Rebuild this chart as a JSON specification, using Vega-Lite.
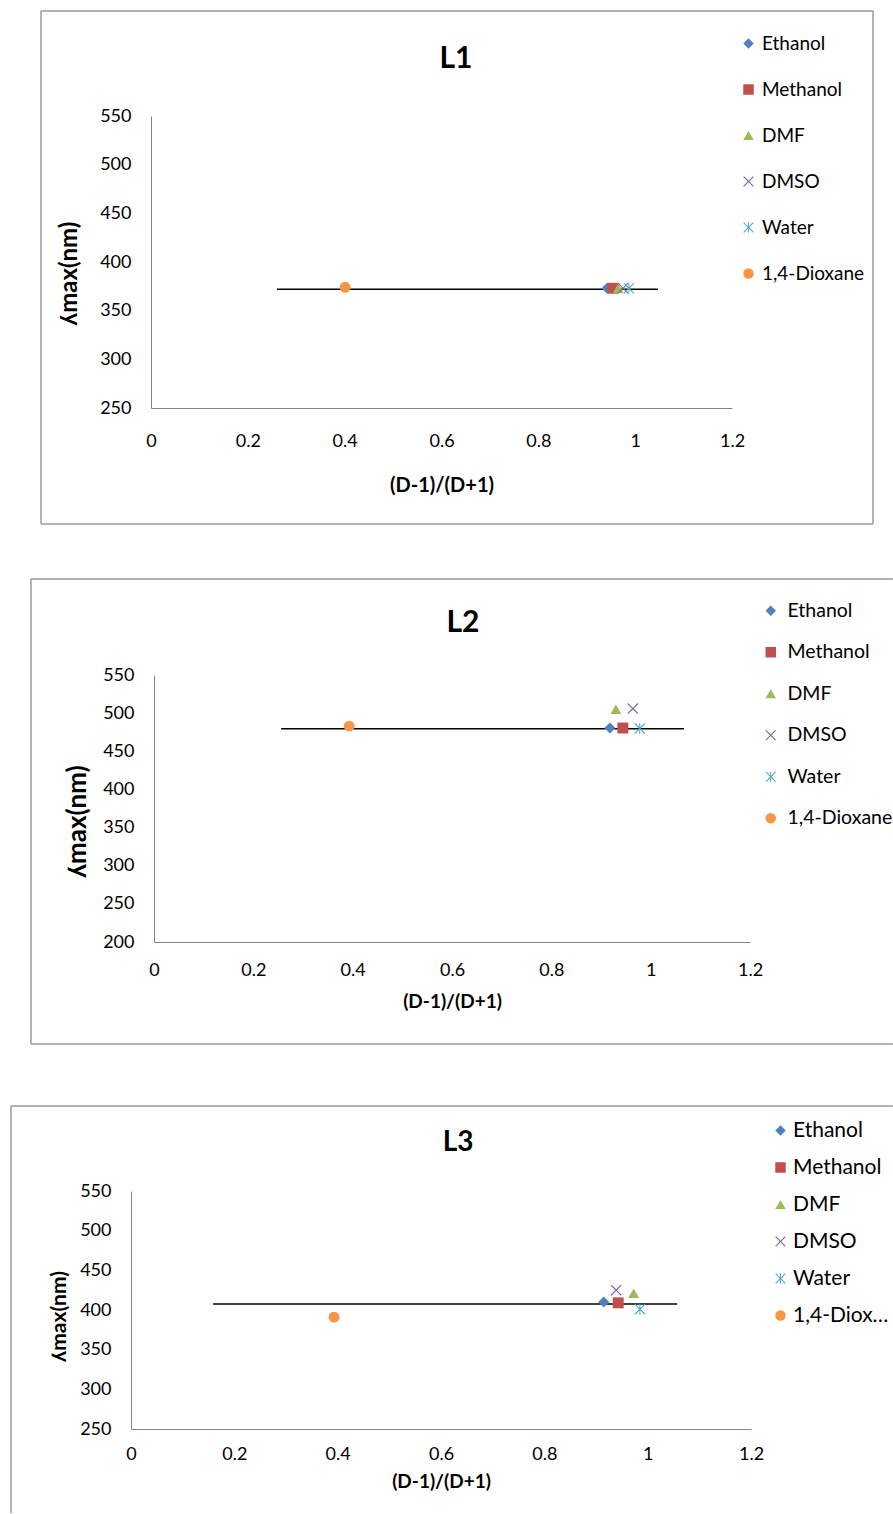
{
  "$schema": "https://vega.github.io/schema/vega-lite/v6.json",
  "padding": {"left": 9, "top": 10, "right": 0, "bottom": 0},
  "background": "white",
  "config": {
    "view": {"stroke": null},
    "font": "Lato",
    "axis": {"grid": false, "ticks": false, "tickSize": 0, "tickCount": 20, "domainColor": "#868686", "domainWidth": 1, "labelColor": "#000000", "labelFont": "Lato", "labelFontSize": 18, "titleFont": "Lato", "titleFontSize": 20, "titleFontWeight": "bold", "titleColor": "#000000", "labelFlush": false, "labelOverlap": false},
    "legend": {"padding": 0, "labelFont": "Lato", "labelColor": "#000000", "symbolSize": 110, "symbolStrokeWidth": 0}
  },
  "datasets": {
    "pts": [
      {"panel": "L1", "solvent": "Ethanol", "x": 0.942, "y": 373},
      {"panel": "L1", "solvent": "Methanol", "x": 0.954, "y": 373},
      {"panel": "L1", "solvent": "DMF", "x": 0.965, "y": 373},
      {"panel": "L1", "solvent": "DMSO", "x": 0.975, "y": 373},
      {"panel": "L1", "solvent": "Water", "x": 0.987, "y": 373},
      {"panel": "L1", "solvent": "1,4-Dioxane", "x": 0.401, "y": 374},
      {"panel": "L2", "solvent": "Ethanol", "x": 0.918, "y": 480.5},
      {"panel": "L2", "solvent": "Methanol", "x": 0.944, "y": 480.5},
      {"panel": "L2", "solvent": "DMF", "x": 0.93, "y": 505},
      {"panel": "L2", "solvent": "DMSO", "x": 0.964, "y": 506},
      {"panel": "L2", "solvent": "Water", "x": 0.978, "y": 480},
      {"panel": "L2", "solvent": "1,4-Dioxane", "x": 0.393, "y": 483},
      {"panel": "L3", "solvent": "Ethanol", "x": 0.915, "y": 410},
      {"panel": "L3", "solvent": "Methanol", "x": 0.943, "y": 409},
      {"panel": "L3", "solvent": "DMF", "x": 0.973, "y": 421},
      {"panel": "L3", "solvent": "DMSO", "x": 0.939, "y": 425},
      {"panel": "L3", "solvent": "Water", "x": 0.985, "y": 401},
      {"panel": "L3", "solvent": "1,4-Dioxane", "x": 0.393, "y": 391}
    ],
    "trend": [
      {"panel": "L1", "x": 0.26, "y": 372},
      {"panel": "L1", "x": 1.047, "y": 372},
      {"panel": "L2", "x": 0.256, "y": 479.5},
      {"panel": "L2", "x": 1.067, "y": 479.5},
      {"panel": "L3", "x": 0.159, "y": 407.6},
      {"panel": "L3", "x": 1.057, "y": 407.6}
    ]
  },
  "spacing": 53,
  "resolve": {"scale": {"x": "independent", "y": "independent", "color": "independent", "shape": "independent"}, "legend": {"color": "independent", "shape": "independent"}},
  "vconcat": [
    {
      "spacing": 0,
      "resolve": {"scale": {"x": "independent", "y": "independent", "color": "independent", "shape": "independent"}, "legend": {"color": "independent", "shape": "independent"}},
      "hconcat": [
        {"width": 31, "height": 10, "data": {"values": [{}]}, "mark": {"type": "point", "opacity": 0, "size": 0}},
        {
          "width": 581, "height": 292,
          "layer": [
            {"data": {"values": [{}]}, "mark": {"type": "rule", "color": "#9a9a9a", "strokeWidth": 1.5},
             "encoding": {"x": {"datum": -0.2272, "type": "quantitative", "scale": {"domain": [0, 1.2], "nice": false, "zero": false}}, "x2": {"datum": 1.4912}, "y": {"datum": 657.9, "type": "quantitative", "scale": {"domain": [250, 550], "nice": false, "zero": false}}}},
            {"data": {"values": [{}]}, "mark": {"type": "rule", "color": "#9a9a9a", "strokeWidth": 1.5},
             "encoding": {"x": {"datum": -0.2272, "type": "quantitative"}, "x2": {"datum": 1.4912}, "y": {"datum": 130.8, "type": "quantitative"}}},
            {"data": {"values": [{}]}, "mark": {"type": "rule", "color": "#9a9a9a", "strokeWidth": 1.5},
             "encoding": {"x": {"datum": -0.2272, "type": "quantitative"}, "y": {"datum": 130.8, "type": "quantitative"}, "y2": {"datum": 657.9}}},
            {"data": {"values": [{}]}, "mark": {"type": "rule", "color": "#9a9a9a", "strokeWidth": 1.5},
             "encoding": {"x": {"datum": 1.4912, "type": "quantitative"}, "y": {"datum": 130.8, "type": "quantitative"}, "y2": {"datum": 657.9}}},
            {"data": {"name": "trend"}, "transform": [{"filter": "datum.panel === 'L1'"}],
             "mark": {"type": "line", "color": "#000000", "strokeWidth": 1.5},
             "encoding": {"x": {"field": "x", "type": "quantitative"}, "y": {"field": "y", "type": "quantitative"}}},
            {"data": {"name": "pts"}, "transform": [{"filter": "datum.panel === 'L1'"}],
             "mark": {"type": "point", "filled": true, "size": 120, "opacity": 1},
             "encoding": {
               "x": {"field": "x", "type": "quantitative", "scale": {"domain": [0, 1.2], "nice": false, "zero": false},
                     "axis": {"title": "(D-1)/(D+1)", "values": [0, 0.2, 0.4, 0.6, 0.8, 1, 1.2], "tickCount": 20, "format": "~g", "labelOverlap": false, "labelPadding": 24, "titlePadding": 25}},
               "y": {"field": "y", "type": "quantitative", "scale": {"domain": [250, 550], "nice": false, "zero": false},
                     "axis": {"title": "ʎmax(nm)", "titleFontSize": 24, "titleY": 157, "values": [250, 300, 350, 400, 450, 500, 550], "tickCount": 20, "labelOverlap": false, "labelPadding": 20, "titlePadding": 18}},
               "color": {"field": "solvent", "type": "nominal",
                         "scale": {"domain": ["Ethanol", "Methanol", "DMF", "DMSO", "Water", "1,4-Dioxane"], "range": ["#4F81BD", "#C0504D", "#9BBB59", "#8064A2", "#4BACC6", "#F79646"]},
                         "legend": {"title": null, "orient": "none", "legendX": 588, "legendY": -82, "labelFontSize": 19, "rowPadding": 26, "labelOffset": 4}},
               "shape": {"field": "solvent", "type": "nominal",
                         "scale": {"domain": ["Ethanol", "Methanol", "DMF", "DMSO", "Water", "1,4-Dioxane"], "range": ["diamond", "square", "triangle-up", "M-1,-0.85L-0.85,-1L0,-0.15L0.85,-1L1,-0.85L0.15,0L1,0.85L0.85,1L0,0.15L-0.85,1L-1,0.85L-0.15,0Z", "M-1,-0.85L-0.85,-1L0,-0.15L0.85,-1L1,-0.85L0.15,0L1,0.85L0.85,1L0,0.15L-0.85,1L-1,0.85L-0.15,0ZM-0.09,-1L0.09,-1L0.09,1L-0.09,1Z", "circle"]},
                         "legend": {"title": null, "orient": "none", "legendX": 588, "legendY": -82, "labelFontSize": 19, "rowPadding": 26, "labelOffset": 4}}
             }},
            {"data": {"values": [{}]}, "mark": {"type": "text", "text": "L1", "fontSize": 30, "fontWeight": "bold", "font": "Lato", "color": "#000000", "baseline": "middle", "align": "center"},
             "encoding": {"x": {"datum": 0.63, "type": "quantitative"}, "y": {"datum": 608.6, "type": "quantitative"}}}
          ]
        }
      ]
    },
    {
      "spacing": 0,
      "resolve": {"scale": {"x": "independent", "y": "independent", "color": "independent", "shape": "independent"}, "legend": {"color": "independent", "shape": "independent"}},
      "hconcat": [
        {"width": 21, "height": 377, "data": {"values": [{}]}, "mark": {"type": "point", "opacity": 0, "size": 0}},
        {
          "width": 596, "height": 267,
          "layer": [
            {"data": {"values": [{}]}, "mark": {"type": "rule", "color": "#9a9a9a", "strokeWidth": 1.5},
             "encoding": {"x": {"datum": -0.2477, "type": "quantitative", "scale": {"domain": [0, 1.2], "nice": false, "zero": false}}, "x2": {"datum": 1.4879}, "y": {"datum": 675.8, "type": "quantitative", "scale": {"domain": [200, 550], "nice": false, "zero": false}}}},
            {"data": {"values": [{}]}, "mark": {"type": "rule", "color": "#9a9a9a", "strokeWidth": 1.5},
             "encoding": {"x": {"datum": -0.2477, "type": "quantitative"}, "x2": {"datum": 1.4879}, "y": {"datum": 66.3, "type": "quantitative"}}},
            {"data": {"values": [{}]}, "mark": {"type": "rule", "color": "#9a9a9a", "strokeWidth": 1.5},
             "encoding": {"x": {"datum": -0.2477, "type": "quantitative"}, "y": {"datum": 66.3, "type": "quantitative"}, "y2": {"datum": 675.8}}},
            {"data": {"name": "trend"}, "transform": [{"filter": "datum.panel === 'L2'"}],
             "mark": {"type": "line", "color": "#000000", "strokeWidth": 1.5},
             "encoding": {"x": {"field": "x", "type": "quantitative"}, "y": {"field": "y", "type": "quantitative"}}},
            {"data": {"name": "pts"}, "transform": [{"filter": "datum.panel === 'L2'"}],
             "mark": {"type": "point", "filled": true, "size": 120, "opacity": 1},
             "encoding": {
               "x": {"field": "x", "type": "quantitative", "scale": {"domain": [0, 1.2], "nice": false, "zero": false},
                     "axis": {"title": "(D-1)/(D+1)", "values": [0, 0.2, 0.4, 0.6, 0.8, 1, 1.2], "tickCount": 20, "format": "~g", "labelOverlap": false, "labelPadding": 19, "titlePadding": 13, "titleFontSize": 19}},
               "y": {"field": "y", "type": "quantitative", "scale": {"domain": [200, 550], "nice": false, "zero": false},
                     "axis": {"title": "ʎmax(nm)", "titleFontSize": 26, "titleY": 146, "values": [200, 250, 300, 350, 400, 450, 500, 550], "tickCount": 20, "labelOverlap": false, "labelPadding": 20, "titlePadding": 12}},
               "color": {"field": "solvent", "type": "nominal",
                         "scale": {"domain": ["Ethanol", "Methanol", "DMF", "DMSO", "Water", "1,4-Dioxane"], "range": ["#4F81BD", "#C0504D", "#9BBB59", "#8064A2", "#4BACC6", "#F79646"]},
                         "legend": {"title": null, "orient": "none", "legendX": 607, "legendY": -74, "labelFontSize": 19.5, "rowPadding": 20.5, "labelOffset": 7, "labelLimit": 107}},
               "shape": {"field": "solvent", "type": "nominal",
                         "scale": {"domain": ["Ethanol", "Methanol", "DMF", "DMSO", "Water", "1,4-Dioxane"], "range": ["diamond", "square", "triangle-up", "M-1,-0.85L-0.85,-1L0,-0.15L0.85,-1L1,-0.85L0.15,0L1,0.85L0.85,1L0,0.15L-0.85,1L-1,0.85L-0.15,0Z", "M-1,-0.85L-0.85,-1L0,-0.15L0.85,-1L1,-0.85L0.15,0L1,0.85L0.85,1L0,0.15L-0.85,1L-1,0.85L-0.15,0ZM-0.09,-1L0.09,-1L0.09,1L-0.09,1Z", "circle"]},
                         "legend": {"title": null, "orient": "none", "legendX": 607, "legendY": -74, "labelFontSize": 19.5, "rowPadding": 20.5, "labelOffset": 7, "labelLimit": 107}}
             }},
            {"data": {"values": [{}]}, "mark": {"type": "text", "text": "L2", "fontSize": 30, "fontWeight": "bold", "font": "Lato", "color": "#000000", "baseline": "middle", "align": "center"},
             "encoding": {"x": {"datum": 0.622, "type": "quantitative"}, "y": {"datum": 618.2, "type": "quantitative"}}}
          ]
        }
      ]
    },
    {
      "spacing": 0,
      "resolve": {"scale": {"x": "independent", "y": "independent", "color": "independent", "shape": "independent"}, "legend": {"color": "independent", "shape": "independent"}},
      "hconcat": [
        {"width": 1, "height": 10, "data": {"values": [{}]}, "mark": {"type": "point", "opacity": 0, "size": 0}},
        {
          "width": 620, "height": 238,
          "layer": [
            {"data": {"values": [{}]}, "mark": {"type": "rule", "color": "#9a9a9a", "strokeWidth": 1.5},
             "encoding": {"x": {"datum": -0.2323, "type": "quantitative", "scale": {"domain": [0, 1.2], "nice": false, "zero": false}}, "x2": {"datum": 1.4748}, "y": {"datum": 657.1, "type": "quantitative", "scale": {"domain": [250, 550], "nice": false, "zero": false}}}},
            {"data": {"values": [{}]}, "mark": {"type": "rule", "color": "#9a9a9a", "strokeWidth": 1.5},
             "encoding": {"x": {"datum": -0.2323, "type": "quantitative"}, "y": {"datum": 143.9, "type": "quantitative"}, "y2": {"datum": 657.1}}},
            {"data": {"name": "trend"}, "transform": [{"filter": "datum.panel === 'L3'"}],
             "mark": {"type": "line", "color": "#000000", "strokeWidth": 1.5},
             "encoding": {"x": {"field": "x", "type": "quantitative"}, "y": {"field": "y", "type": "quantitative"}}},
            {"data": {"name": "pts"}, "transform": [{"filter": "datum.panel === 'L3'"}],
             "mark": {"type": "point", "filled": true, "size": 120, "opacity": 1},
             "encoding": {
               "x": {"field": "x", "type": "quantitative", "scale": {"domain": [0, 1.2], "nice": false, "zero": false},
                     "axis": {"title": "(D-1)/(D+1)", "values": [0, 0.2, 0.4, 0.6, 0.8, 1, 1.2], "tickCount": 20, "format": "~g", "labelOverlap": false, "labelPadding": 16, "titlePadding": 9, "titleFontSize": 19}},
               "y": {"field": "y", "type": "quantitative", "scale": {"domain": [250, 550], "nice": false, "zero": false},
                     "axis": {"title": "ʎmax(nm)", "titleFontSize": 21, "titleY": 125, "values": [250, 300, 350, 400, 450, 500, 550], "tickCount": 20, "labelOverlap": false, "labelPadding": 20, "titlePadding": 10}},
               "color": {"field": "solvent", "type": "nominal",
                         "scale": {"domain": ["Ethanol", "Methanol", "DMF", "DMSO", "Water", "1,4-Dioxane"], "range": ["#4F81BD", "#C0504D", "#9BBB59", "#8064A2", "#4BACC6", "#F79646"]},
                         "legend": {"title": null, "orient": "none", "legendX": 639, "legendY": -71, "labelFontSize": 21, "rowPadding": 15, "labelOffset": 2, "labelLimit": 100}},
               "shape": {"field": "solvent", "type": "nominal",
                         "scale": {"domain": ["Ethanol", "Methanol", "DMF", "DMSO", "Water", "1,4-Dioxane"], "range": ["diamond", "square", "triangle-up", "M-1,-0.85L-0.85,-1L0,-0.15L0.85,-1L1,-0.85L0.15,0L1,0.85L0.85,1L0,0.15L-0.85,1L-1,0.85L-0.15,0Z", "M-1,-0.85L-0.85,-1L0,-0.15L0.85,-1L1,-0.85L0.15,0L1,0.85L0.85,1L0,0.15L-0.85,1L-1,0.85L-0.15,0ZM-0.09,-1L0.09,-1L0.09,1L-0.09,1Z", "circle"]},
                         "legend": {"title": null, "orient": "none", "legendX": 639, "legendY": -71, "labelFontSize": 21, "rowPadding": 15, "labelOffset": 2, "labelLimit": 100}}
             }},
            {"data": {"values": [{}]}, "mark": {"type": "text", "text": "L3", "fontSize": 28, "fontWeight": "bold", "font": "Lato", "color": "#000000", "baseline": "middle", "align": "center"},
             "encoding": {"x": {"datum": 0.633, "type": "quantitative"}, "y": {"datum": 610.5, "type": "quantitative"}}}
          ]
        }
      ]
    }
  ]
}
